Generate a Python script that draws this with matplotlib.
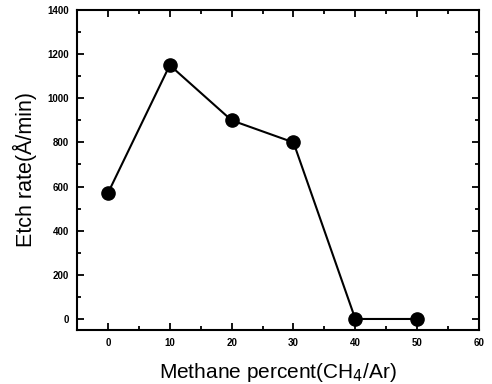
import matplotlib.pyplot as plt
from matplotlib.ticker import MultipleLocator

# methane percent vs etch rate
methane = [0, 10, 20, 30, 40, 50]
etch_rate = [570, 1150, 900, 800, 0, 0]

plt.rcParams['font.family'] = ['Liberation Sans', 'DejaVu Sans']

fig = plt.figure(figsize=(4.92, 3.84), dpi=100)
ax = fig.add_axes([0.1565, 0.1406, 0.8171, 0.8334])

ax.plot(methane, etch_rate, color='black', linewidth=1.5, marker='o',
        markersize=9.5, markerfacecolor='black')

ax.set_xlim(-5, 60)
ax.set_ylim(-50, 1400)
ax.xaxis.set_major_locator(MultipleLocator(10))
ax.xaxis.set_minor_locator(MultipleLocator(5))
ax.yaxis.set_major_locator(MultipleLocator(200))
ax.yaxis.set_minor_locator(MultipleLocator(100))

ax.tick_params(which='both', direction='in', top=True, right=True, width=1.3)
ax.tick_params(which='major', length=5, labelsize=7, pad=6)
ax.tick_params(which='minor', length=3)
for lbl in ax.get_xticklabels() + ax.get_yticklabels():
    lbl.set_fontweight('bold')
for s in ax.spines.values():
    s.set_linewidth(1.5)

ax.set_xlabel('Methane percent(CH$_4$/Ar)', fontsize=15, labelpad=9)
ax.set_ylabel('Etch rate(Å/min)', fontsize=15.5, labelpad=7)

fig.savefig('out.png', dpi=100)
